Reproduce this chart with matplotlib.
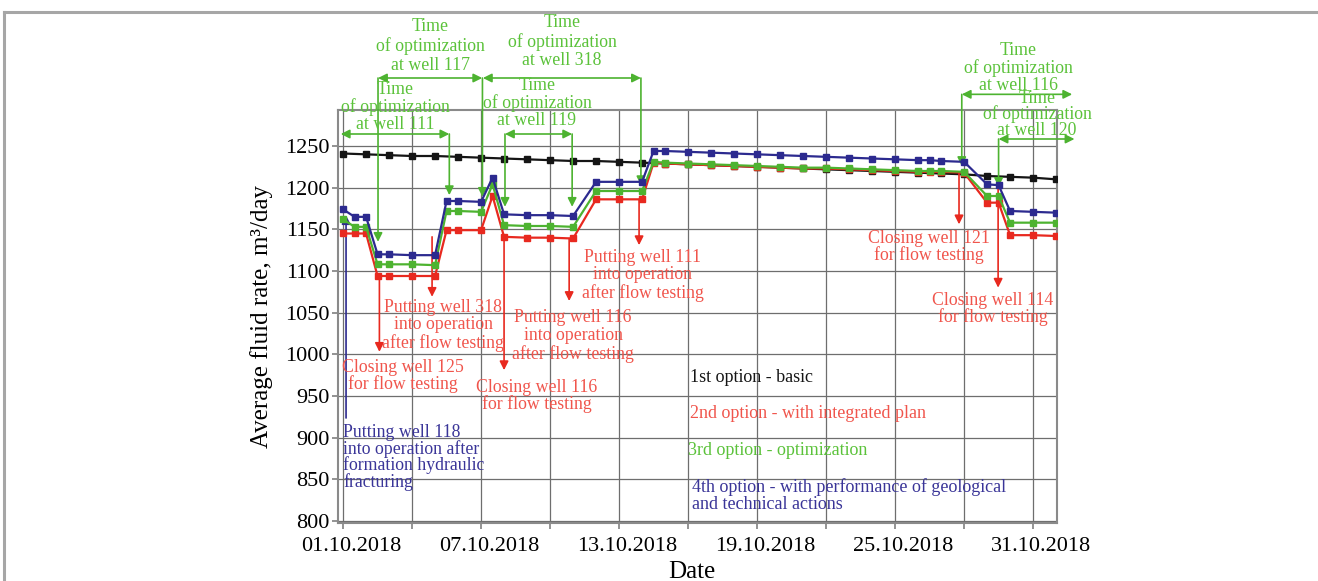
import matplotlib
matplotlib.use("Agg")
import matplotlib.pyplot as plt
import matplotlib.transforms as mtransforms
from matplotlib.lines import Line2D

plt.rcParams['font.family'] = ['Liberation Serif', 'DejaVu Serif']

# day offsets counted from 01.10.2018
days_basic = list(range(32))
rate_basic = [1241, 1240, 1239, 1238, 1238, 1237, 1236, 1235, 1234, 1233, 1232,
              1232, 1231, 1230, 1229, 1228, 1227, 1226, 1225, 1224, 1223, 1222,
              1221, 1220, 1219, 1218, 1217, 1216, 1214, 1213, 1212, 1210]

days_opt = [0, 0.5, 1, 1.5, 2, 3, 4, 4.5, 5, 6, 6.5, 7, 8, 9, 10, 11, 12, 13,
            13.5, 14, 15, 16, 17, 18, 19, 20, 21, 22, 23, 24, 25, 25.5, 26, 27,
            28, 28.5, 29, 30, 31]
rate_plan = [1145, 1145, 1145, 1094, 1094, 1094, 1094, 1149, 1149, 1149, 1190,
             1141, 1140, 1140, 1139, 1186, 1186, 1186, 1230, 1229, 1228, 1227,
             1226, 1225, 1224, 1223, 1223, 1222, 1221, 1220, 1219, 1219, 1219,
             1218, 1182, 1182, 1143, 1143, 1142]
rate_optim = [1162, 1153, 1153, 1108, 1108, 1108, 1107, 1172, 1172, 1171, 1204,
              1155, 1154, 1154, 1153, 1196, 1196, 1196, 1231, 1230, 1229, 1228,
              1227, 1226, 1225, 1224, 1224, 1223, 1222, 1221, 1220, 1220, 1220,
              1219, 1190, 1190, 1158, 1158, 1158]
rate_gta = [1174, 1165, 1165, 1120, 1120, 1119, 1119, 1184, 1184, 1183, 1212,
            1168, 1167, 1167, 1166, 1207, 1207, 1207, 1244, 1244, 1243, 1242,
            1241, 1240, 1239, 1238, 1237, 1236, 1235, 1234, 1233, 1233, 1232,
            1231, 1204, 1203, 1172, 1171, 1170]

tick_days = [0, 6, 12, 18, 24, 30]
tick_labels = ['01.10.2018', '07.10.2018', '13.10.2018', '19.10.2018',
               '25.10.2018', '31.10.2018']
y_ticks = [800, 850, 900, 950, 1000, 1050, 1100, 1150, 1200, 1250]

BLACK = '#151515'
RED = '#e8291f'
GREEN = '#4db330'
BLUE = '#2c2a8f'
RED_TXT = '#f0554c'
GREEN_TXT = '#5bc23a'
BLUE_TXT = '#3a3598'

fig = plt.figure(figsize=(13.18, 5.81), dpi=100)
ax = fig.add_axes([338 / 1318, 1 - 523 / 581, (1057 - 338) / 1318, (523 - 110) / 581])

# outer frame (top and left only)
fig.add_artist(Line2D([0.003, 1.0], [1 - 12 / 581, 1 - 12 / 581], color='#a6a6a6', lw=2.2))
fig.add_artist(Line2D([0.003, 0.003], [0, 1 - 12 / 581], color='#a6a6a6', lw=2.2))

mk = dict(marker='s', markersize=5, lw=1.6)
ax.plot(days_basic, rate_basic, color=BLACK, **mk, zorder=3)
ax.plot(days_opt, rate_plan, color=RED, **mk, zorder=4)
ax.plot(days_opt, rate_optim, color=GREEN, **mk, zorder=5)
ax.plot(days_opt, rate_gta, color=BLUE, **mk, zorder=6)

ax.set_xlim(-0.22, 31.04)
ax.set_ylim(797.6, 1293.2)
ax.set_xticks(tick_days)
ax.set_xticklabels(tick_labels)
ax.set_xticks(range(0, 31, 3), minor=True)
ax.set_yticks(y_ticks)
ax.tick_params(which='both', direction='out', color='#808080', length=4, width=1.2,
               labelsize=16)
ax.tick_params(axis='x', pad=6)
ax.tick_params(axis='y', pad=2)
shift = mtransforms.ScaledTranslation(8 / 100, 0, fig.dpi_scale_trans)
for lab in ax.get_xticklabels():
    lab.set_transform(lab.get_transform() + shift)
ax.grid(which='both', color='#6e6e6e', lw=0.9, zorder=0)
ax.set_axisbelow(True)
for s in ax.spines.values():
    s.set_color('#8a8a8a')
    s.set_linewidth(1.5)

ax.set_ylabel('Average fluid rate, m³/day', fontsize=18, labelpad=9)
fig.text(692 / 1318, 1 - 572 / 581, 'Date', fontsize=18, ha='center', va='center')


def arrow(x0, y0, x1, y1, color, style='-|>'):
    ax.annotate('', xy=(x1, y1), xytext=(x0, y0), annotation_clip=False,
                arrowprops=dict(arrowstyle=style, color=color, lw=1.2,
                                shrinkA=0, shrinkB=0, mutation_scale=13))


def label(x, y, s, color, ha='center', size=12.8, ls=1.0):
    ax.text(x, y, s, color=color, fontsize=size, ha=ha, va='center',
            linespacing=ls, zorder=8)


opt = 'Time\nof optimization\nat well '
# optimization periods (green)
arrow(-0.1, 1264.4, 4.62, 1264.4, GREEN, '<|-|>')
arrow(1.52, 1331.6, 6.05, 1331.6, GREEN, '<|-|>')
arrow(6.08, 1331.6, 12.95, 1331.6, GREEN, '<|-|>')
arrow(7.04, 1264.4, 9.96, 1264.4, GREEN, '<|-|>')
arrow(26.9, 1312.0, 31.7, 1312.0, GREEN, '<|-|>')
arrow(28.5, 1258.4, 31.8, 1258.4, GREEN, '<|-|>')
arrow(1.52, 1331.6, 1.52, 1135, GREEN)
arrow(4.62, 1264.4, 4.62, 1191, GREEN)
arrow(6.06, 1331.6, 6.06, 1189, GREEN)
arrow(12.95, 1331.6, 12.95, 1203, GREEN)
arrow(7.04, 1264.4, 7.04, 1177, GREEN)
arrow(9.96, 1264.4, 9.96, 1177, GREEN)
arrow(26.9, 1312.0, 26.9, 1226, GREEN)
arrow(28.5, 1258.4, 28.5, 1201, GREEN)
label(2.26, 1297, opt + '111', GREEN_TXT, ls=0.98)
label(3.78, 1370, opt + '117', GREEN_TXT, ls=1.12)
label(9.52, 1375, opt + '318', GREEN_TXT, ls=1.12)
label(8.43, 1301.6, opt + '119', GREEN_TXT, ls=0.98)
label(29.35, 1343.6, opt + '116', GREEN_TXT, ls=0.98)
label(30.17, 1288, opt + '120', GREEN_TXT, ls=0.9)

# well events (red)
arrow(1.58, 1094, 1.58, 1003, RED)
arrow(3.87, 1141, 3.87, 1069, RED)
arrow(7.0, 1141, 7.0, 981, RED)
arrow(9.83, 1139, 9.83, 1064, RED)
arrow(12.87, 1186, 12.87, 1131, RED)
arrow(26.78, 1218, 26.78, 1156, RED)
arrow(28.48, 1200, 28.48, 1080, RED)
label(2.6, 974, 'Closing well 125\nfor flow testing', RED_TXT, ls=0.95)
label(4.35, 1035, 'Putting well 318\ninto operation\nafter flow testing', RED_TXT, ls=1.05)
label(8.43, 950, 'Closing well 116\nfor flow testing', RED_TXT, ls=1.0)
label(10.0, 1022, 'Putting well 116\ninto operation\nafter flow testing', RED_TXT, ls=1.05)
label(13.04, 1095, 'Putting well 111\ninto operation\nafter flow testing', RED_TXT, ls=1.05)
label(25.48, 1129, 'Closing well 121\nfor flow testing', RED_TXT, ls=0.95)
label(28.26, 1054, 'Closing well 114\nfor flow testing', RED_TXT, ls=0.95)

# well event (blue)
arrow(0.13, 923.6, 0.13, 1167, BLUE)
label(0.0, 876, 'Putting well 118\ninto operation after\nformation hydraulic\nfracturing',
      BLUE_TXT, ha='left', ls=0.9)

# legend as plain text
label(15.09, 971.6, '1st option - basic', BLACK, ha='left', size=13)
label(15.09, 929.6, '2nd option - with integrated plan', RED_TXT, ha='left', size=13)
label(15.0, 885.0, '3rd option - optimization', GREEN_TXT, ha='left', size=13)
label(15.17, 830.6, '4th option - with performance of geological\nand technical actions',
      BLUE_TXT, ha='left', size=13, ls=1.05)

fig.savefig('out.png', dpi=100)
